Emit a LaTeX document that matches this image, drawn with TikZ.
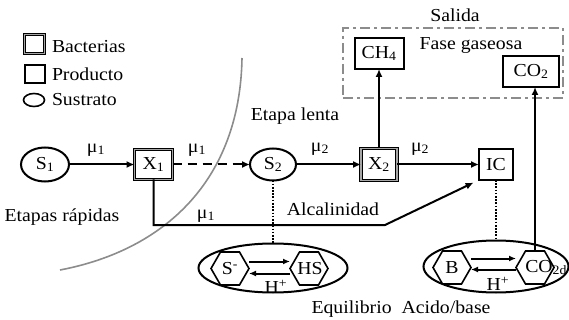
\documentclass[tikz,border=0pt]{standalone}
\usepackage{fontspec}
\setmainfont[FakeStretch=1.08]{Liberation Serif}
\usetikzlibrary{shapes.geometric,arrows.meta,calc}
\begin{document}
\begin{tikzpicture}[x=1pt,y=-1pt,
 every node/.style={font=\fontsize{18.3}{20}\selectfont, inner sep=0pt, outer sep=0pt},
 prod/.style={draw, line width=2pt, rectangle},
 bact/.style={draw, line width=1pt, double=gray!70, double distance=1.6pt, rectangle},
 sust/.style={draw, line width=2pt, ellipse},
 hexa/.style={draw, line width=1.6pt, regular polygon, regular polygon sides=6, minimum size=38pt},
 flow/.style={line width=2pt, -{Latex[length=8pt,width=7pt]}},
 eqarr/.style={line width=2pt, -{Latex[length=7pt,width=6pt]}},
 dots/.style={line width=2.6pt, dash pattern=on 1.7pt off 1.5pt},
 eqell/.style={draw, line width=2pt, ellipse}]
\useasboundingbox (0,0) rectangle (569,320);

% legend
\node[bact, minimum width=20pt, minimum height=19pt] (lgb) at (34.5,44) {};
\node[anchor=base west] (lgbt) at (52,53) {Bacterias};
\node[prod, line width=1.6pt, minimum width=20pt, minimum height=18pt] (lgp) at (35,74) {};
\node[anchor=base west] (lgpt) at (52,80.5) {Producto};
\node[sust, line width=1.6pt, minimum width=21pt, minimum height=13pt] (lgs) at (34,100) {};
\node[anchor=base west] (lgst) at (52,106) {Sustrato};

% gas phase
\node[draw=gray!90, line width=2.2pt, dash pattern=on 10pt off 4pt on 3pt off 4pt,
      minimum width=220pt, minimum height=70pt] (gas) at (453,63) {};
\node[anchor=base] (sal) at (455,22) {Salida};
\node[anchor=base] (fase) at (471,50) {Fase gaseosa};
\node[prod, minimum width=49pt, minimum height=31pt] (ch4) at (379,53.5) {CH\textsubscript{4}};
\node[prod, minimum width=56pt, minimum height=31pt] (co2) at (531,71.5) {CO\textsubscript{2}};

% dividing arc
\draw[gray!90, line width=1.6pt] (242,58) .. controls (240,180) and (165,250) .. (60,270);

% main row
\node[sust, minimum width=48pt, minimum height=34pt] (s1) at (45,164.5) {S\textsubscript{1}};
\node[bact, minimum width=38pt, minimum height=30pt] (x1) at (153.5,164.5) {X\textsubscript{1}};
\node[sust, minimum width=46pt, minimum height=32pt] (s2) at (273,164.5) {S\textsubscript{2}};
\node[bact, minimum width=36pt, minimum height=32pt] (x2) at (379,164.5) {X\textsubscript{2}};
\node[prod, minimum width=34pt, minimum height=31pt] (ic) at (496,164.5) {IC};

\draw[flow] (s1) -- (x1);
\draw[flow, dash pattern=on 9pt off 6pt] (x1) -- (s2);
\draw[flow] (s2) -- (x2);
\draw[flow] (x2) -- (ic);
\draw[flow] (x2) -- (ch4);
\coordinate (bend) at (385,225);
\draw[flow, shorten >=6pt] (x1.south) |- (bend) -- (ic.south west);

\node (m1) at (96,150) {μ\textsubscript{1}};
\node (m2) at (197,150) {μ\textsubscript{1}};
\node (m3) at (320,149) {μ\textsubscript{2}};
\node (m4) at (420,149) {μ\textsubscript{2}};
\node (m5) at (206,216) {μ\textsubscript{1}};

\node[anchor=base] (rap) at (62,221) {Etapas rápidas};
\node[anchor=base] (lenta) at (295,121) {Etapa lenta};
\node[anchor=base] (alc) at (333,215) {Alcalinidad};

% equilibria
\node[eqell, minimum width=149pt, minimum height=49pt] (eqL) at (273,268) {};
\node[eqell, minimum width=145pt, minimum height=52pt] (eqR) at (496,266.5) {};
\draw[dots] (s2.south) -- (eqL.north);
\draw[dots] (ic.south) -- (eqR.north);

\node[hexa] (hsm) at (230,268.5) {};
\node[hexa] (hhs) at (309,268.5) {};
\node (tsm) at (230,268.5) {S\textsuperscript{-}};
\node (ths) at (310,268.5) {HS};
\draw[eqarr] ($(hsm.east)+(0,-7)$) -- ($(hhs.west)+(0,-7)$);
\draw[eqarr] ($(hhs.west)+(0,5)$) -- ($(hsm.east)+(0,5)$);
\node (hpl) at (276,287) {H\textsuperscript{+}};

\node[hexa] (hb) at (452,267.5) {};
\node[hexa] (hco) at (535,267.5) {};
\node (tb) at (452,267.5) {B};
\node (tco) at (539,267.5) {CO\rlap{\textsubscript{2d}}};
\draw[eqarr] ($(hb.east)+(0,-9)$) -- ($(hco.west)+(0,-9)$);
\draw[eqarr] ($(hco.west)+(0,2)$) -- ($(hb.east)+(0,2)$);
\node (hpr) at (498,284) {H\textsuperscript{+}};
\draw[flow] (hco.north) -- (hco.north |- co2.south);

\node[anchor=base] (eqt) at (401,313) {Equilibrio\ \ Acido/base};
\end{tikzpicture}
\end{document}
